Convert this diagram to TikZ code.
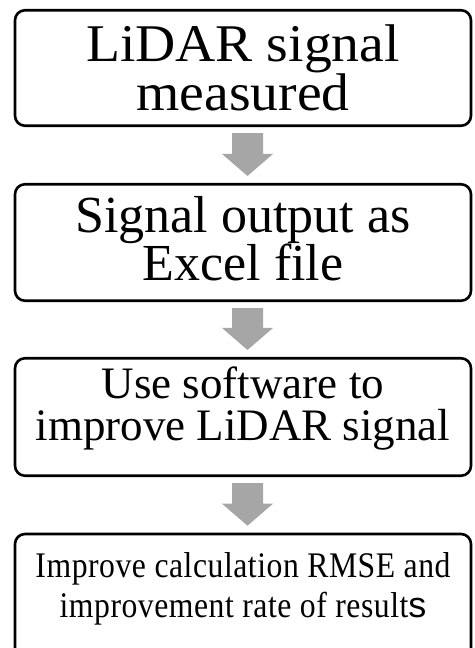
\documentclass[tikz,border=0pt]{standalone}
\usepackage{fontspec}
\setmainfont{Liberation Serif}
\setsansfont{Liberation Sans}
\usetikzlibrary{calc}

\tikzset{
  stage/.style={draw=black, line width=2.6pt, rounded corners=10pt,
                minimum width=456pt, align=center, inner sep=0pt},
  arrowfill/.style={fill=black!35}
}

% gray block arrow from the bottom of one stage to the top of the next
\newcommand{\stagearrow}[2]{%
  \fill[arrowfill] ($(#1.south)+(-11,6)$) -- ($(#1.south)+(20,6)$)
    -- ($(#2.north)+(20,-29)$) -- ($(#2.north)+(30,-29)$)
    -- ($(#2.north)+(4.5,-7)$)
    -- ($(#2.north)+(-21,-29)$) -- ($(#2.north)+(-11,-29)$) -- cycle;}
% extra depth to lift the text a little inside its box
\newcommand{\lift}[1]{\rule[-#1pt]{0pt}{0pt}}

\begin{document}
\begin{tikzpicture}[x=1pt,y=-1pt]

  % page frame
  \useasboundingbox (0,0) rectangle (474,648);
  \clip (0,0) rectangle (474,648);

  % stages
  \node[stage, minimum height=115.5pt,
        font={\fontsize{53}{49}\selectfont\addfontfeatures{FakeStretch=1.05}}] (lidar) at (243,68)
    {LiDAR signal\\measured};
  \node[stage, minimum height=116.5pt, font={\fontsize{52}{48}\selectfont}] (excel) at (243,242.5)
    {Signal output as\\Excel file\lift{8.5}};
  \node[stage, minimum height=117.5pt, font={\fontsize{45}{42}\selectfont}] (soft) at (243,417)
    {Use software to\\improve LiDAR signal\lift{27}};
  \node[stage, minimum height=128pt,
        font={\fontsize{36}{40}\selectfont\addfontfeatures{FakeStretch=0.88,LetterSpace=1.5}}] (rmse) at (243,598)
    {Improve calculation RMSE and\\improvement rate of result{\sffamily s}\lift{26}};

  % arrows between stages
  \stagearrow{lidar}{excel}
  \stagearrow{excel}{soft}
  \stagearrow{soft}{rmse}

\end{tikzpicture}
\end{document}
